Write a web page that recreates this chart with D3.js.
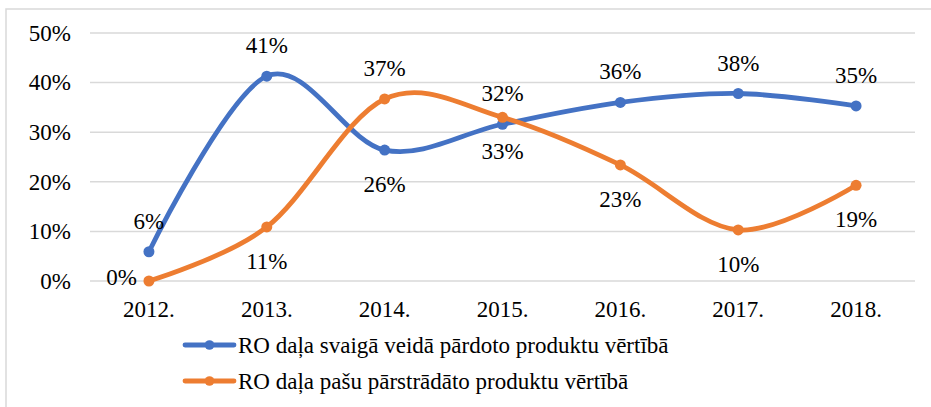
<!DOCTYPE html>
<html><head><meta charset="utf-8">
<script src="https://cdn.jsdelivr.net/npm/d3@7"></script>
<style>#c, #c text { font-family: "Liberation Serif", "Times New Roman", Times, serif !important; }</style>
</head><body style="margin:0">
<svg id="c" width="931" height="407" font-family="Liberation Serif, serif"></svg>
<script>
const years = ["2012.","2013.","2014.","2015.","2016.","2017.","2018."];
const seriesNames = ["RO daļa svaigā veidā pārdoto produktu vērtībā","RO daļa pašu pārstrādāto produktu vērtībā"];
const freshValues = [0.059,0.413,0.264,0.316,0.360,0.378,0.353];
const processedValues = [0.000,0.109,0.367,0.330,0.234,0.103,0.193];
const yTicks = [0,0.1,0.2,0.3,0.4,0.5];
const colors = ["#4472C4","#ED7D31"];
// label placement: "a" = above, "b" = below, "l" = left
const freshLabelPos = ["a","a","b","a","a","a","a"];
const processedLabelPos = ["l","b","a","b","b","b","b"];

const FONT = "Liberation Serif, serif";
const FS = 23;
const svg = d3.select("#c");
svg.append("rect").attr("x",6).attr("y",9).attr("width",940).attr("height",420).attr("fill","none").attr("stroke","#d9d9d9").attr("stroke-width",1.5);

const pL=90,pR=915,pT=33,pB=281;
const x = d3.scaleBand().domain(years).range([pL,pR]);
const y = d3.scaleLinear().domain([0,0.5]).range([pB,pT]);
const fmt = d3.format(".0%");

svg.append("g").selectAll("line").data(yTicks).join("line")
  .attr("x1",pL).attr("x2",pR).attr("y1",d=>y(d)).attr("y2",d=>y(d))
  .attr("stroke","#d9d9d9").attr("stroke-width",1.5);

const yAxis = svg.append("g").attr("transform",`translate(${pL},0)`)
  .call(d3.axisLeft(y).tickValues(yTicks).tickFormat(fmt).tickSize(0).tickPadding(19));
yAxis.attr("font-family",FONT).attr("font-size",FS);
yAxis.select(".domain").remove();
yAxis.selectAll("text").attr("font-family",FONT).attr("font-size",FS).attr("fill","#000");

const xAxis = svg.append("g").attr("transform",`translate(0,${pB})`)
  .call(d3.axisBottom(x).tickSize(0).tickPadding(20));
xAxis.attr("font-family",FONT).attr("font-size",FS);
xAxis.select(".domain").remove();
xAxis.selectAll("text").attr("font-family",FONT).attr("font-size",FS).attr("fill","#000");

const cx = d=>x(d)+x.bandwidth()/2;
const line = d3.line().x((d,i)=>cx(years[i])).y(d=>y(d)).curve(d3.curveCatmullRom.alpha(0));

const all = [[freshValues,freshLabelPos],[processedValues,processedLabelPos]];
all.forEach(([vals,pos],k)=>{
  const g = svg.append("g");
  g.append("path").datum(vals).attr("d",line).attr("fill","none").attr("stroke",colors[k]).attr("stroke-width",4.8).attr("stroke-linecap","round");
  g.selectAll("circle").data(vals).join("circle").attr("cx",(d,i)=>cx(years[i])).attr("cy",d=>y(d)).attr("r",5.5).attr("fill",colors[k]);
});
all.forEach(([vals,pos],k)=>{
  svg.append("g").attr("font-family",FONT).selectAll("text").data(vals).join("text")
    .attr("x",(d,i)=>pos[i]==="l"? cx(years[i])-12 : cx(years[i]))
    .attr("y",(d,i)=>pos[i]==="a"? y(d)-23 : pos[i]==="b"? y(d)+42 : y(d)+4)
    .attr("text-anchor",(d,i)=>pos[i]==="l"?"end":"middle")
    .attr("font-family",FONT).attr("font-size",FS).attr("fill","#000").text(d=>fmt(d));
});

const lg = svg.append("g").attr("font-family",FONT);
seriesNames.forEach((n,k)=>{
  const yy = 345 + k*36;
  lg.append("line").attr("x1",185).attr("x2",234).attr("y1",yy).attr("y2",yy).attr("stroke",colors[k]).attr("stroke-width",4.8).attr("stroke-linecap","round");
  lg.append("circle").attr("cx",209.5).attr("cy",yy).attr("r",4.8).attr("fill",colors[k]);
  lg.append("text").attr("x",238).attr("y",yy+8).attr("font-family",FONT).attr("font-size",FS).attr("fill","#000").text(n);
});
</script>
</body></html>
